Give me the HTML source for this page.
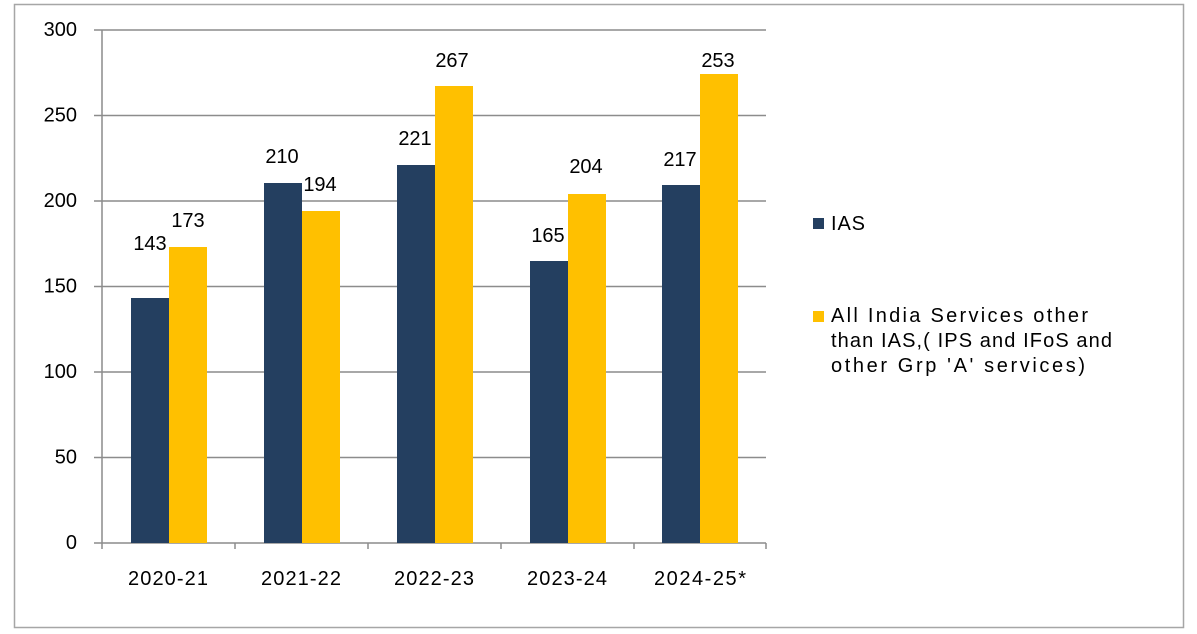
<!DOCTYPE html><html><head><style>body{margin:0;background:#fff}svg{display:block}text{font-family:"Liberation Sans",sans-serif;font-size:20px;fill:#000}</style></head><body>
<svg width="1197" height="634" viewBox="0 0 1197 634">
<rect x="14.5" y="4.5" width="1169" height="623" fill="#fff" stroke="#a6a6a6" stroke-width="1.5"/>
<g stroke="#8c8c8c" stroke-width="1.5">
<line x1="94" y1="30" x2="766" y2="30"/><line x1="94" y1="115.5" x2="766" y2="115.5"/><line x1="94" y1="201" x2="766" y2="201"/><line x1="94" y1="286.5" x2="766" y2="286.5"/><line x1="94" y1="372" x2="766" y2="372"/><line x1="94" y1="457.5" x2="766" y2="457.5"/><line x1="94" y1="543" x2="766" y2="543"/>
<line x1="102" y1="30" x2="102" y2="549"/>
<line x1="235" y1="543" x2="235" y2="549"/><line x1="368" y1="543" x2="368" y2="549"/><line x1="501" y1="543" x2="501" y2="549"/><line x1="634" y1="543" x2="634" y2="549"/><line x1="766" y1="543" x2="766" y2="549"/>
</g>
<g fill="#243F60">
<rect x="131" y="298" width="38" height="245"/><rect x="264" y="183" width="38" height="360"/><rect x="397" y="165" width="38" height="378"/><rect x="530" y="261" width="38" height="282"/><rect x="662" y="185" width="38" height="358"/>
</g>
<g fill="#FFC000">
<rect x="169" y="247" width="38" height="296"/><rect x="302" y="211" width="38" height="332"/><rect x="435" y="86" width="38" height="457"/><rect x="568" y="194" width="38" height="349"/><rect x="700" y="74" width="38" height="469"/>
</g>
<g text-anchor="end" dominant-baseline="central">
<text x="77" y="30">300</text><text x="77" y="115.5">250</text><text x="77" y="201">200</text><text x="77" y="286.5">150</text><text x="77" y="372">100</text><text x="77" y="457.5">50</text><text x="77" y="543">0</text>
</g>
<g text-anchor="middle" dominant-baseline="central">
<text x="168" y="579" textLength="80">2020-21</text><text x="301" y="579" textLength="80">2021-22</text><text x="434" y="579" textLength="80">2022-23</text><text x="567" y="579" textLength="80">2023-24</text><text x="700" y="579" textLength="92">2024-25*</text>
<text x="150" y="244">143</text><text x="188" y="221">173</text><text x="282" y="157">210</text><text x="320" y="185">194</text><text x="415" y="139">221</text><text x="452" y="61">267</text><text x="548" y="236">165</text><text x="586" y="167">204</text><text x="680" y="160">217</text><text x="718" y="61">253</text>
</g>
<rect x="813" y="218" width="11" height="11" fill="#243F60"/>
<rect x="813" y="311" width="11" height="11" fill="#FFC000"/>
<g dominant-baseline="central">
<text x="831" y="224" textLength="34">IAS</text>
<text x="831" y="316" textLength="257">All India Services other</text>
<text x="831" y="341" textLength="281">than IAS,( IPS and IFoS and</text>
<text x="831" y="366" textLength="254">other Grp 'A' services)</text>
</g>
</svg></body></html>
